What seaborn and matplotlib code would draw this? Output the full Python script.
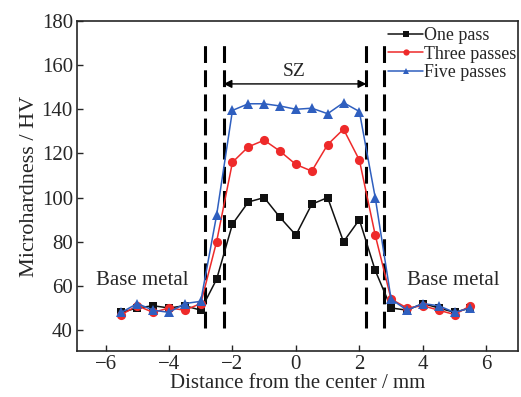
import matplotlib
matplotlib.use("Agg")
import matplotlib.pyplot as plt
import seaborn as sns
import pandas as pd

distance = [-5.5, -5, -4.5, -4, -3.5, -3, -2.5, -2, -1.5, -1, -0.5, 0, 0.5, 1, 1.5, 2, 2.5, 3, 3.5, 4, 4.5, 5, 5.5]
one_pass = [48, 50, 51, 50, 51, 49, 63, 88, 98, 100, 91, 83, 97, 100, 80, 90, 67, 50, 49, 52, 50, 48, 50]
three_passes = [47, 51, 48, 50, 49, 52, 80, 116, 123, 126, 121, 115, 112, 124, 131, 117, 83, 54, 50, 51, 49, 47, 51]
five_passes = [48, 52, 49, 48, 52, 53, 92, 139.5, 142.5, 142.5, 141.5, 140, 140.5, 138, 143, 139, 100, 54, 49, 52, 51, 48, 50]
series_names = ["One pass", "Three passes", "Five passes"]
boundary_x = [-2.85, -2.28, 2.22, 2.78]
xticks = [-6, -4, -2, 0, 2, 4, 6]
yticks = [40, 60, 80, 100, 120, 140, 160, 180]

df = pd.DataFrame({
    "x": distance * 3,
    "y": one_pass + three_passes + five_passes,
    "series": [series_names[0]] * len(distance) + [series_names[1]] * len(distance) + [series_names[2]] * len(distance),
})

sns.set_style("ticks")
plt.rcParams["font.family"] = ["Liberation Serif", "DejaVu Serif"]

fig = plt.figure(figsize=(5.21, 3.97), dpi=100)
ax = fig.add_axes([77 / 521, 1 - 351 / 397, 441 / 521, 330 / 397])

palette = {"One pass": "#111111", "Three passes": "#ee2a2a", "Five passes": "#2f5fbf"}
markers = {"One pass": "s", "Three passes": "o", "Five passes": "^"}
sns.lineplot(data=df, x="x", y="y", hue="series", style="series", markers=markers, dashes=False,
             palette=palette, ax=ax, linewidth=1.1, markersize=5.2, markeredgewidth=0)

msize = {"s": 6.0, "o": 6.6, "^": 7.0}
for ln in ax.lines:
    m = ln.get_marker()
    if m in msize:
        ln.set_markersize(msize[m])

for bx in boundary_x:
    ax.plot([bx, bx], [41, 172], color="black", lw=2.2, dashes=(5.5, 2.4), zorder=1)

ax.annotate("", xy=(-2.28, 151.5), xytext=(2.22, 151.5),
            arrowprops=dict(arrowstyle="<|-|>", color="black", lw=1.0, mutation_scale=12, shrinkA=0, shrinkB=0))
ax.text(-0.05, 157, "SZ", ha="center", va="center", fontsize=14)
ax.text(-4.85, 62.5, "Base metal", ha="center", va="center", fontsize=15)
ax.text(4.96, 62.5, "Base metal", ha="center", va="center", fontsize=15)

ax.set_xlim(-6.9, 7.0)
ax.set_ylim(30.5, 180)
ax.set_xticks(xticks)
ax.set_yticks(yticks)
ax.set_xticklabels(["\u2212" + str(-t) if t < 0 else str(t) for t in xticks])
ax.tick_params(direction="in", labelsize=15, length=4, width=1, pad=3)
ax.set_xlabel("Distance from the center / mm", fontsize=15, labelpad=0)
ax.set_ylabel("Microhardness / HV", fontsize=16, labelpad=2)
for s in ax.spines.values():
    s.set_linewidth(1.2)

leg = ax.legend(loc="upper right", bbox_to_anchor=(1.021, 1.015), frameon=False, fontsize=12.9,
                handlelength=1.95, handletextpad=0.05, labelspacing=0.1, borderaxespad=0.2)
for h in leg.legend_handles:
    h.set_markersize(4.5)

fig.savefig("out.png", dpi=100)
